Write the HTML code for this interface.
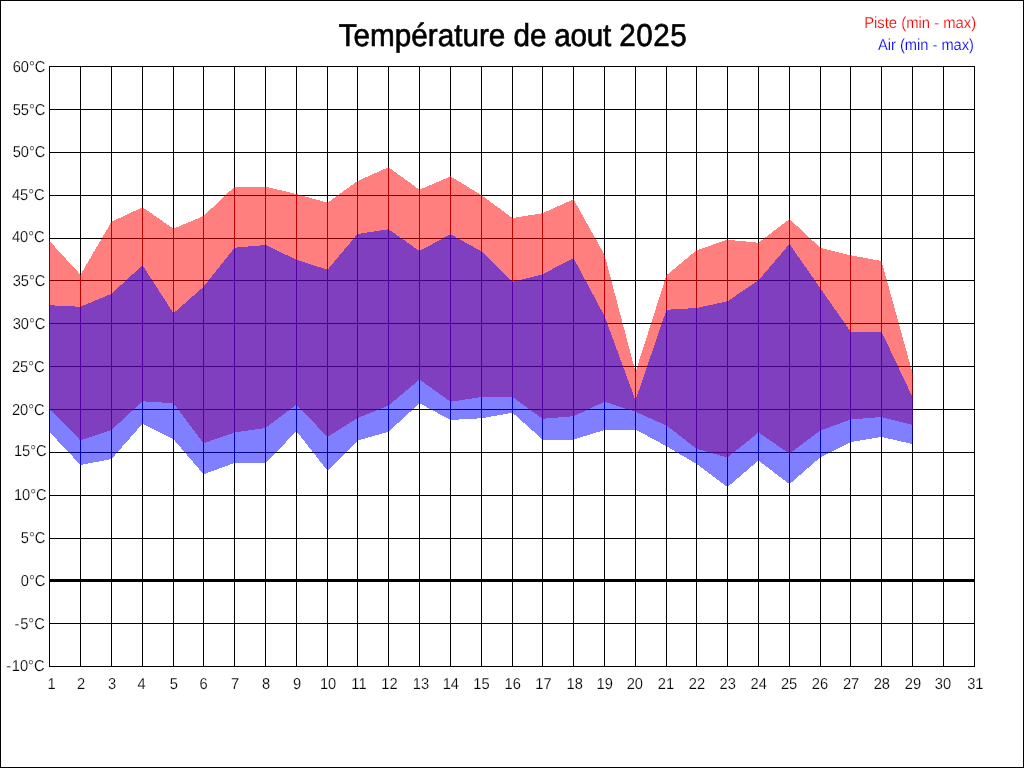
<!DOCTYPE html>
<html lang="fr">
<head>
<meta charset="utf-8">
<title>Température de aout 2025</title>
<style>
html,body{margin:0;padding:0;background:#fff;}
body{width:1024px;height:768px;overflow:hidden;}
svg{display:block;}
text{font-family:"Liberation Sans",sans-serif;text-rendering:geometricPrecision;}
.t{font-size:29.33px;fill:#000;}
.l{font-size:14.67px;fill:#000;stroke:#fff;stroke-width:0.16px;}
</style>
</head>
<body>
<svg width="1024" height="768" viewBox="0 0 1024 768">
<rect x="0" y="0" width="1024" height="768" fill="#fff"/>
<g shape-rendering="crispEdges">
<rect x="0.5" y="0.5" width="1023" height="767" fill="none" stroke="#000" stroke-width="1"/>

<rect x="49" y="66" width="1" height="601" fill="#000"/>
<rect x="80" y="66" width="1" height="601" fill="#000"/>
<rect x="111" y="66" width="1" height="601" fill="#000"/>
<rect x="142" y="66" width="1" height="601" fill="#000"/>
<rect x="173" y="66" width="1" height="601" fill="#000"/>
<rect x="203" y="66" width="1" height="601" fill="#000"/>
<rect x="234" y="66" width="1" height="601" fill="#000"/>
<rect x="265" y="66" width="1" height="601" fill="#000"/>
<rect x="296" y="66" width="1" height="601" fill="#000"/>
<rect x="327" y="66" width="1" height="601" fill="#000"/>
<rect x="357" y="66" width="1" height="601" fill="#000"/>
<rect x="388" y="66" width="1" height="601" fill="#000"/>
<rect x="419" y="66" width="1" height="601" fill="#000"/>
<rect x="450" y="66" width="1" height="601" fill="#000"/>
<rect x="481" y="66" width="1" height="601" fill="#000"/>
<rect x="512" y="66" width="1" height="601" fill="#000"/>
<rect x="542" y="66" width="1" height="601" fill="#000"/>
<rect x="573" y="66" width="1" height="601" fill="#000"/>
<rect x="604" y="66" width="1" height="601" fill="#000"/>
<rect x="635" y="66" width="1" height="601" fill="#000"/>
<rect x="666" y="66" width="1" height="601" fill="#000"/>
<rect x="696" y="66" width="1" height="601" fill="#000"/>
<rect x="727" y="66" width="1" height="601" fill="#000"/>
<rect x="758" y="66" width="1" height="601" fill="#000"/>
<rect x="789" y="66" width="1" height="601" fill="#000"/>
<rect x="820" y="66" width="1" height="601" fill="#000"/>
<rect x="850" y="66" width="1" height="601" fill="#000"/>
<rect x="881" y="66" width="1" height="601" fill="#000"/>
<rect x="912" y="66" width="1" height="601" fill="#000"/>
<rect x="943" y="66" width="1" height="601" fill="#000"/>
<rect x="974" y="66" width="1" height="601" fill="#000"/>
<rect x="49" y="66" width="926" height="1" fill="#000"/>
<rect x="49" y="109" width="926" height="1" fill="#000"/>
<rect x="49" y="152" width="926" height="1" fill="#000"/>
<rect x="49" y="195" width="926" height="1" fill="#000"/>
<rect x="49" y="238" width="926" height="1" fill="#000"/>
<rect x="49" y="280" width="926" height="1" fill="#000"/>
<rect x="49" y="323" width="926" height="1" fill="#000"/>
<rect x="49" y="366" width="926" height="1" fill="#000"/>
<rect x="49" y="409" width="926" height="1" fill="#000"/>
<rect x="49" y="452" width="926" height="1" fill="#000"/>
<rect x="49" y="495" width="926" height="1" fill="#000"/>
<rect x="49" y="538" width="926" height="1" fill="#000"/>
<rect x="49" y="580" width="926" height="1" fill="#000"/>
<rect x="49" y="623" width="926" height="1" fill="#000"/>
<rect x="49" y="666" width="926" height="1" fill="#000"/>
<polygon points="49.00,241.00 49.50,241.00 80.50,274.75 81.00,274.75 81.00,440.50 80.50,440.50 49.50,409.25 49.00,409.25" fill="#f00" fill-opacity="0.5"/>
<polygon points="49.00,305.25 49.50,305.25 80.50,306.75 81.00,306.75 81.00,465.00 80.50,465.00 49.50,432.00 49.00,432.00" fill="#00f" fill-opacity="0.5"/>
<polygon points="80.00,274.75 80.50,274.75 111.50,221.75 112.00,221.75 112.00,430.00 111.50,430.00 80.50,440.50 80.00,440.50" fill="#f00" fill-opacity="0.5"/>
<polygon points="80.00,306.75 80.50,306.75 111.50,293.75 112.00,293.75 112.00,459.00 111.50,459.00 80.50,465.00 80.00,465.00" fill="#00f" fill-opacity="0.5"/>
<polygon points="111.00,221.75 111.50,221.75 142.50,207.25 143.00,207.25 143.00,401.25 142.50,401.25 111.50,430.00 111.00,430.00" fill="#f00" fill-opacity="0.5"/>
<polygon points="111.00,293.75 111.50,293.75 142.50,265.25 143.00,265.25 143.00,423.75 142.50,423.75 111.50,459.00 111.00,459.00" fill="#00f" fill-opacity="0.5"/>
<polygon points="142.00,207.25 142.50,207.25 173.50,228.75 174.00,228.75 174.00,403.25 173.50,403.25 142.50,401.25 142.00,401.25" fill="#f00" fill-opacity="0.5"/>
<polygon points="142.00,265.25 142.50,265.25 173.50,313.25 174.00,313.25 174.00,439.25 173.50,439.25 142.50,423.75 142.00,423.75" fill="#00f" fill-opacity="0.5"/>
<polygon points="173.00,228.75 173.50,228.75 203.50,216.00 204.00,216.00 204.00,443.25 203.50,443.25 173.50,403.25 173.00,403.25" fill="#f00" fill-opacity="0.5"/>
<polygon points="173.00,313.25 173.50,313.25 203.50,286.75 204.00,286.75 204.00,474.25 203.50,474.25 173.50,439.25 173.00,439.25" fill="#00f" fill-opacity="0.5"/>
<polygon points="203.00,216.00 203.50,216.00 234.50,186.75 235.00,186.75 235.00,432.50 234.50,432.50 203.50,443.25 203.00,443.25" fill="#f00" fill-opacity="0.5"/>
<polygon points="203.00,286.75 203.50,286.75 234.50,247.75 235.00,247.75 235.00,463.00 234.50,463.00 203.50,474.25 203.00,474.25" fill="#00f" fill-opacity="0.5"/>
<polygon points="234.00,186.75 234.50,186.75 265.50,186.75 266.00,186.75 266.00,428.00 265.50,428.00 234.50,432.50 234.00,432.50" fill="#f00" fill-opacity="0.5"/>
<polygon points="234.00,247.75 234.50,247.75 265.50,245.00 266.00,245.00 266.00,463.00 265.50,463.00 234.50,463.00 234.00,463.00" fill="#00f" fill-opacity="0.5"/>
<polygon points="265.00,186.75 265.50,186.75 296.50,194.00 297.00,194.00 297.00,404.50 296.50,404.50 265.50,428.00 265.00,428.00" fill="#f00" fill-opacity="0.5"/>
<polygon points="265.00,245.00 265.50,245.00 296.50,259.75 297.00,259.75 297.00,431.25 296.50,431.25 265.50,463.00 265.00,463.00" fill="#00f" fill-opacity="0.5"/>
<polygon points="296.00,194.00 296.50,194.00 327.50,202.75 328.00,202.75 328.00,437.00 327.50,437.00 296.50,404.50 296.00,404.50" fill="#f00" fill-opacity="0.5"/>
<polygon points="296.00,259.75 296.50,259.75 327.50,269.75 328.00,269.75 328.00,470.75 327.50,470.75 296.50,431.25 296.00,431.25" fill="#00f" fill-opacity="0.5"/>
<polygon points="327.00,202.75 327.50,202.75 357.50,181.00 358.00,181.00 358.00,418.00 357.50,418.00 327.50,437.00 327.00,437.00" fill="#f00" fill-opacity="0.5"/>
<polygon points="327.00,269.75 327.50,269.75 357.50,234.00 358.00,234.00 358.00,440.50 357.50,440.50 327.50,470.75 327.00,470.75" fill="#00f" fill-opacity="0.5"/>
<polygon points="357.00,181.00 357.50,181.00 388.50,167.25 389.00,167.25 389.00,405.50 388.50,405.50 357.50,418.00 357.00,418.00" fill="#f00" fill-opacity="0.5"/>
<polygon points="357.00,234.00 357.50,234.00 388.50,229.25 389.00,229.25 389.00,431.75 388.50,431.75 357.50,440.50 357.00,440.50" fill="#00f" fill-opacity="0.5"/>
<polygon points="388.00,167.25 388.50,167.25 419.50,189.75 420.00,189.75 420.00,379.50 419.50,379.50 388.50,405.50 388.00,405.50" fill="#f00" fill-opacity="0.5"/>
<polygon points="388.00,229.25 388.50,229.25 419.50,251.00 420.00,251.00 420.00,403.25 419.50,403.25 388.50,431.75 388.00,431.75" fill="#00f" fill-opacity="0.5"/>
<polygon points="419.00,189.75 419.50,189.75 450.50,176.35 451.00,176.35 451.00,401.75 450.50,401.75 419.50,379.50 419.00,379.50" fill="#f00" fill-opacity="0.5"/>
<polygon points="419.00,251.00 419.50,251.00 450.50,234.25 451.00,234.25 451.00,420.00 450.50,420.00 419.50,403.25 419.00,403.25" fill="#00f" fill-opacity="0.5"/>
<polygon points="450.00,176.35 450.50,176.35 481.50,195.25 482.00,195.25 482.00,397.00 481.50,397.00 450.50,401.75 450.00,401.75" fill="#f00" fill-opacity="0.5"/>
<polygon points="450.00,234.25 450.50,234.25 481.50,251.50 482.00,251.50 482.00,418.25 481.50,418.25 450.50,420.00 450.00,420.00" fill="#00f" fill-opacity="0.5"/>
<polygon points="481.00,195.25 481.50,195.25 512.50,218.00 513.00,218.00 513.00,397.00 512.50,397.00 481.50,397.00 481.00,397.00" fill="#f00" fill-opacity="0.5"/>
<polygon points="481.00,251.50 481.50,251.50 512.50,281.95 513.00,281.95 513.00,412.75 512.50,412.75 481.50,418.25 481.00,418.25" fill="#00f" fill-opacity="0.5"/>
<polygon points="512.00,218.00 512.50,218.00 542.50,213.25 543.00,213.25 543.00,418.75 542.50,418.75 512.50,397.00 512.00,397.00" fill="#f00" fill-opacity="0.5"/>
<polygon points="512.00,281.95 512.50,281.95 542.50,274.25 543.00,274.25 543.00,439.50 542.50,439.50 512.50,412.75 512.00,412.75" fill="#00f" fill-opacity="0.5"/>
<polygon points="542.00,213.25 542.50,213.25 573.50,199.25 574.00,199.25 574.00,416.25 573.50,416.25 542.50,418.75 542.00,418.75" fill="#f00" fill-opacity="0.5"/>
<polygon points="542.00,274.25 542.50,274.25 573.50,258.00 574.00,258.00 574.00,439.50 573.50,439.50 542.50,439.50 542.00,439.50" fill="#00f" fill-opacity="0.5"/>
<polygon points="573.00,199.25 573.50,199.25 604.50,254.75 605.00,254.75 605.00,401.75 604.50,401.75 573.50,416.25 573.00,416.25" fill="#f00" fill-opacity="0.5"/>
<polygon points="573.00,258.00 573.50,258.00 604.50,316.00 605.00,316.00 605.00,430.00 604.50,430.00 573.50,439.50 573.00,439.50" fill="#00f" fill-opacity="0.5"/>
<polygon points="604.00,254.75 604.50,254.75 635.50,372.00 636.00,372.00 636.00,411.75 635.50,411.75 604.50,401.75 604.00,401.75" fill="#f00" fill-opacity="0.5"/>
<polygon points="604.00,316.00 604.50,316.00 635.50,400.25 636.00,400.25 636.00,429.50 635.50,429.50 604.50,430.00 604.00,430.00" fill="#00f" fill-opacity="0.5"/>
<polygon points="635.00,372.00 635.50,372.00 666.50,275.25 667.00,275.25 667.00,425.50 666.50,425.50 635.50,411.75 635.00,411.75" fill="#f00" fill-opacity="0.5"/>
<polygon points="635.00,400.25 635.50,400.25 666.50,309.75 667.00,309.75 667.00,446.25 666.50,446.25 635.50,429.50 635.00,429.50" fill="#00f" fill-opacity="0.5"/>
<polygon points="666.00,275.25 666.50,275.25 696.50,250.25 697.00,250.25 697.00,448.75 696.50,448.75 666.50,425.50 666.00,425.50" fill="#f00" fill-opacity="0.5"/>
<polygon points="666.00,309.75 666.50,309.75 696.50,308.00 697.00,308.00 697.00,464.00 696.50,464.00 666.50,446.25 666.00,446.25" fill="#00f" fill-opacity="0.5"/>
<polygon points="696.00,250.25 696.50,250.25 727.50,239.75 728.00,239.75 728.00,457.50 727.50,457.50 696.50,448.75 696.00,448.75" fill="#f00" fill-opacity="0.5"/>
<polygon points="696.00,308.00 696.50,308.00 727.50,301.25 728.00,301.25 728.00,487.00 727.50,487.00 696.50,464.00 696.00,464.00" fill="#00f" fill-opacity="0.5"/>
<polygon points="727.00,239.75 727.50,239.75 758.50,242.75 759.00,242.75 759.00,432.50 758.50,432.50 727.50,457.50 727.00,457.50" fill="#f00" fill-opacity="0.5"/>
<polygon points="727.00,301.25 727.50,301.25 758.50,280.25 759.00,280.25 759.00,460.50 758.50,460.50 727.50,487.00 727.00,487.00" fill="#00f" fill-opacity="0.5"/>
<polygon points="758.00,242.75 758.50,242.75 789.50,219.00 790.00,219.00 790.00,453.75 789.50,453.75 758.50,432.50 758.00,432.50" fill="#f00" fill-opacity="0.5"/>
<polygon points="758.00,280.25 758.50,280.25 789.50,244.00 790.00,244.00 790.00,484.25 789.50,484.25 758.50,460.50 758.00,460.50" fill="#00f" fill-opacity="0.5"/>
<polygon points="789.00,219.00 789.50,219.00 820.50,248.00 821.00,248.00 821.00,430.50 820.50,430.50 789.50,453.75 789.00,453.75" fill="#f00" fill-opacity="0.5"/>
<polygon points="789.00,244.00 789.50,244.00 820.50,288.50 821.00,288.50 821.00,457.00 820.50,457.00 789.50,484.25 789.00,484.25" fill="#00f" fill-opacity="0.5"/>
<polygon points="820.00,248.00 820.50,248.00 850.50,255.25 851.00,255.25 851.00,419.50 850.50,419.50 820.50,430.50 820.00,430.50" fill="#f00" fill-opacity="0.5"/>
<polygon points="820.00,288.50 820.50,288.50 850.50,331.50 851.00,331.50 851.00,442.00 850.50,442.00 820.50,457.00 820.00,457.00" fill="#00f" fill-opacity="0.5"/>
<polygon points="850.00,255.25 850.50,255.25 881.50,261.00 882.00,261.00 882.00,417.00 881.50,417.00 850.50,419.50 850.00,419.50" fill="#f00" fill-opacity="0.5"/>
<polygon points="850.00,331.50 850.50,331.50 881.50,331.50 882.00,331.50 882.00,437.00 881.50,437.00 850.50,442.00 850.00,442.00" fill="#00f" fill-opacity="0.5"/>
<polygon points="881.00,261.00 881.50,261.00 912.50,373.05 913.00,373.05 913.00,425.00 912.50,425.00 881.50,417.00 881.00,417.00" fill="#f00" fill-opacity="0.5"/>
<polygon points="881.00,331.50 881.50,331.50 912.50,397.05 913.00,397.05 913.00,444.00 912.50,444.00 881.50,437.00 881.00,437.00" fill="#00f" fill-opacity="0.5"/>
<rect x="49" y="579" width="926" height="3" fill="#000"/>
</g>
<text class="t" transform="translate(338.7,46.1) scale(1.012,1.08)" stroke="#000" stroke-width="0.6">Température de <tspan dx="-0.5" letter-spacing="-0.3">aout</tspan> <tspan dx="0" letter-spacing="0.55">2025</tspan></text>
<text class="l" transform="translate(864.15,28) scale(1.0116,1.08)" style="fill:#f00">Piste (min - max)</text>
<text class="l" transform="translate(877.9,50) scale(1,1.08)" style="fill:#00f">Air (min - max)</text>
<text class="l" text-anchor="end" transform="translate(45.40,71.50) scale(1,1.08)">60°C</text>
<text class="l" text-anchor="end" transform="translate(45.40,114.50) scale(1,1.08)">55°C</text>
<text class="l" text-anchor="end" transform="translate(45.40,157.00) scale(1,1.08)">50°C</text>
<text class="l" text-anchor="end" transform="translate(44.65,199.95) scale(1,1.08)">45°C</text>
<text class="l" text-anchor="end" transform="translate(44.65,242.40) scale(1,1.08)">40°C</text>
<text class="l" text-anchor="end" transform="translate(45.40,285.50) scale(1,1.08)">35°C</text>
<text class="l" text-anchor="end" transform="translate(45.40,328.85) scale(1,1.08)">30°C</text>
<text class="l" text-anchor="end" transform="translate(44.65,371.95) scale(1,1.08)">25°C</text>
<text class="l" text-anchor="end" transform="translate(44.65,415.05) scale(1,1.08)">20°C</text>
<text class="l" text-anchor="end" transform="translate(46.65,456.40) scale(1,1.08)">15°C</text>
<text class="l" text-anchor="end" transform="translate(46.65,500.20) scale(1,1.08)">10°C</text>
<text class="l" text-anchor="end" transform="translate(45.40,543.10) scale(1,1.08)">5°C</text>
<text class="l" text-anchor="end" transform="translate(45.40,585.50) scale(1,1.08)">0°C</text>
<text class="l" text-anchor="end" transform="translate(44.80,628.50) scale(1,1.08)">-<tspan dx="0.7">5°C</tspan></text>
<text class="l" text-anchor="end" transform="translate(44.50,671.40) scale(1,1.08)">-<tspan dx="0.7">10°C</tspan></text>
<text class="l" transform="translate(47.54,689) scale(1,1.08)">1</text>
<text class="l" transform="translate(77.01,689) scale(1,1.08)">2</text>
<text class="l" transform="translate(107.88,689) scale(1,1.08)">3</text>
<text class="l" transform="translate(137.52,689) scale(1,1.08)">4</text>
<text class="l" transform="translate(169.68,689) scale(1,1.08)">5</text>
<text class="l" transform="translate(199.62,689) scale(1,1.08)">6</text>
<text class="l" transform="translate(230.91,689) scale(1,1.08)">7</text>
<text class="l" transform="translate(261.92,689) scale(1,1.08)">8</text>
<text class="l" transform="translate(292.91,689) scale(1,1.08)">9</text>
<text class="l" transform="translate(319.92,689) scale(1,1.08)">10</text>
<text class="l" transform="translate(351.34,689) scale(1,1.08)">11</text>
<text class="l" transform="translate(381.32,689) scale(1,1.08)">12</text>
<text class="l" transform="translate(412.75,689) scale(1,1.08)">13</text>
<text class="l" transform="translate(442.65,689) scale(1,1.08)">14</text>
<text class="l" transform="translate(473.23,689) scale(1,1.08)">15</text>
<text class="l" transform="translate(504.53,689) scale(1,1.08)">16</text>
<text class="l" transform="translate(535.32,689) scale(1,1.08)">17</text>
<text class="l" transform="translate(566.50,689) scale(1,1.08)">18</text>
<text class="l" transform="translate(596.57,689) scale(1,1.08)">19</text>
<text class="l" transform="translate(626.68,689) scale(1,1.08)">20</text>
<text class="l" transform="translate(657.73,689) scale(1,1.08)">21</text>
<text class="l" transform="translate(688.75,689) scale(1,1.08)">22</text>
<text class="l" transform="translate(719.59,689) scale(1,1.08)">23</text>
<text class="l" transform="translate(750.54,689) scale(1,1.08)">24</text>
<text class="l" transform="translate(780.96,689) scale(1,1.08)">25</text>
<text class="l" transform="translate(811.73,689) scale(1,1.08)">26</text>
<text class="l" transform="translate(842.88,689) scale(1,1.08)">27</text>
<text class="l" transform="translate(873.72,689) scale(1,1.08)">28</text>
<text class="l" transform="translate(904.83,689) scale(1,1.08)">29</text>
<text class="l" transform="translate(934.76,689) scale(1,1.08)">30</text>
<text class="l" transform="translate(967.19,689) scale(1,1.08)">31</text>
</svg>
</body>
</html>
